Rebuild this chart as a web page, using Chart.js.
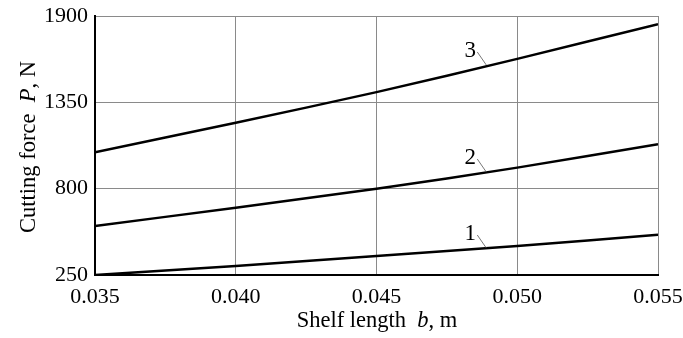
<!DOCTYPE html>
<html>
<head>
<meta charset="utf-8">
<script src="https://cdn.jsdelivr.net/npm/chart.js@4/dist/chart.umd.min.js"></script>
<style>
  html, body { margin: 0; padding: 0; background: #fff; }
  canvas { display: block; }
</style>
</head>
<body>
<canvas id="chart" width="683" height="338"></canvas>
<script>
const shelfLength = [0.035, 0.040, 0.045, 0.050, 0.055];
const curve1 = [250, 307, 371, 435, 507];
const curve2 = [562, 679, 800, 934, 1083];
const curve3 = [1032, 1220, 1415, 1627, 1848];
const forceTicks = [250, 800, 1350, 1900];
const curveNames = ['1', '2', '3'];
// where each leader line touches its curve (data units)
const labelAnchors = [[0.0489, 422], [0.0489, 906], [0.0489, 1588]];

const FONT = '"Liberation Serif", "Times New Roman", serif';

const toPoints = (ys) => ys.map((y, i) => ({ x: shelfLength[i], y }));

const lineStyle = { borderColor: '#000', borderWidth: 2.5, pointRadius: 0, tension: 0.3, fill: false };

// axis titles with italic symbols and the 1/2/3 curve labels
const annotations = {
  id: 'annotations',
  afterDraw(chart) {
    const { ctx, scales: { x, y } } = chart;
    ctx.save();
    ctx.fillStyle = '#000';
    ctx.textBaseline = 'alphabetic';

    const drawParts = (parts, cx, cy, rotate) => {
      ctx.save();
      ctx.translate(cx, cy);
      if (rotate) ctx.rotate(-Math.PI / 2);
      let total = 0;
      parts.forEach((p) => { ctx.font = p.font; total += ctx.measureText(p.text).width; });
      let pos = -total / 2;
      parts.forEach((p) => {
        ctx.font = p.font;
        ctx.fillText(p.text, pos, 0);
        pos += ctx.measureText(p.text).width;
      });
      ctx.restore();
    };

    const normal = `22.5px ${FONT}`;
    const italic = `italic 22.5px ${FONT}`;
    drawParts([
      { text: 'Shelf length  ', font: normal },
      { text: 'b', font: italic },
      { text: ', m', font: normal },
    ], 377, 327, false);
    drawParts([
      { text: 'Cutting force  ', font: normal },
      { text: 'P', font: italic },
      { text: ', N', font: normal },
    ], 35, 147, true);

    ctx.font = `23px ${FONT}`;
    ctx.textAlign = 'center';
    labelAnchors.forEach(([vx, vy], i) => {
      const px = x.getPixelForValue(vx);
      const py = y.getPixelForValue(vy);
      ctx.strokeStyle = '#555';
      ctx.lineWidth = 0.8;
      ctx.beginPath();
      ctx.moveTo(px - 9, py - 13);
      ctx.lineTo(px, py);
      ctx.stroke();
      ctx.fillText(curveNames[i], px - 16, py - 8);
    });
    ctx.restore();
  },
};

new Chart(document.getElementById('chart'), {
  type: 'line',
  data: {
    datasets: [
      { label: curveNames[0], data: toPoints(curve1), ...lineStyle },
      { label: curveNames[1], data: toPoints(curve2), ...lineStyle },
      { label: curveNames[2], data: toPoints(curve3), ...lineStyle },
    ],
  },
  options: {
    responsive: false,
    animation: false,
    layout: { padding: { top: 16, right: 25, left: 0, bottom: 0 } },
    plugins: { legend: { display: false }, tooltip: { enabled: false } },
    scales: {
      x: {
        type: 'linear',
        min: 0.035,
        max: 0.055,
        afterFit: (scale) => { scale.height = 63; scale.paddingRight = 0; scale.paddingLeft = 0; },
        afterBuildTicks: (scale) => { scale.ticks = shelfLength.map((v) => ({ value: v })); },
        ticks: {
          color: '#000',
          font: { family: FONT, size: 22 },
          padding: 9,
          maxRotation: 0,
          callback: (v) => v.toFixed(3),
        },
        grid: { color: '#8a8a8a', lineWidth: 1, drawTicks: false },
        border: { color: '#000', width: 2 },
      },
      y: {
        min: 250,
        max: 1900,
        afterFit: (scale) => { scale.width = 95; scale.paddingTop = 0; scale.paddingBottom = 0; },
        afterBuildTicks: (scale) => { scale.ticks = forceTicks.map((v) => ({ value: v })); },
        ticks: {
          color: '#000',
          font: { family: FONT, size: 22 },
          padding: 7,
          callback: (v) => String(v),
        },
        grid: { color: '#8a8a8a', lineWidth: 1, drawTicks: false },
        border: { color: '#000', width: 2 },
      },
    },
  },
  plugins: [annotations],
});
</script>
</body>
</html>
